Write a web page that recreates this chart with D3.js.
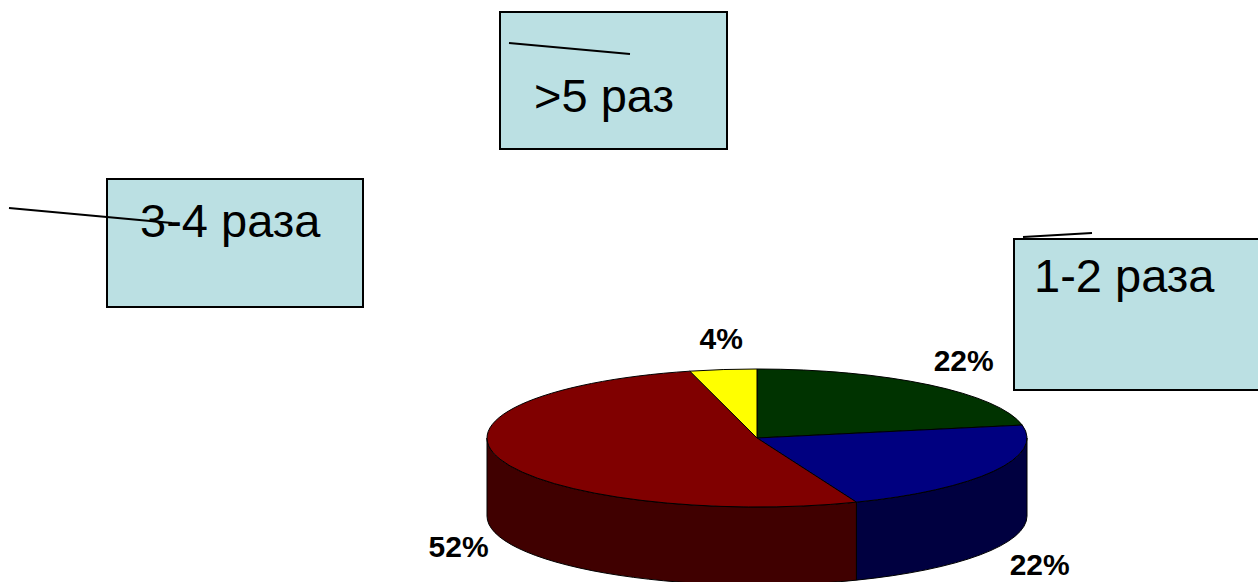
<!DOCTYPE html>
<html>
<head>
<meta charset="utf-8">
<script src="https://cdn.jsdelivr.net/npm/d3@7"></script>
<style>
  body { margin: 0; background: #fff; }
  svg { display: block; font-family: 'Liberation Sans', Arial, sans-serif; }
</style>
</head>
<body>
<div id="chart"></div>
<script>
// slice values (percent), clockwise from 12 o'clock
const values = [22, 22, 52, 4];
const topColors = ['#003300', '#000080', '#800000', '#ffff00'];
const sideColors = ['#001a00', '#000040', '#400000', '#808000'];

// callout boxes
const boxLabels = ['>5 раз', '3-4 раза', '1-2 раза'];

const width = 1258;
const height = 582;

// layout for the callout boxes and their stray leader lines
const boxLayout = [
  {x: 500, y: 12, w: 227, h: 137, tx: 534, ty: 112, line: [[509, 43], [630, 54]]},
  {x: 107, y: 179, w: 256, h: 128, tx: 140, ty: 237, line: [[9, 208], [172, 223]]},
  {x: 1014, y: 239, w: 260, h: 151, tx: 1034, ty: 292, line: [[1023, 237], [1092, 233]]},
];

const cx = 757;
const cy = 438;
const rx = 270;
const ry = 69;
const depth = 78;

const svg = d3.select('#chart')
    .append('svg')
    .attr('width', width)
    .attr('height', height);

const pie = d3.pie().sort(null).value((d) => d);
const arcs = pie(values);

const pt = (a, dy = 0) => [cx + rx * Math.sin(a), cy - ry * Math.cos(a) + dy];

// side walls, only the front half (angles pi/2 .. 3pi/2) is visible
const sides = svg.append('g').attr('class', 'sides');
arcs.forEach((d, i) => {
  const a0 = Math.max(d.startAngle, Math.PI / 2);
  const a1 = Math.min(d.endAngle, 3 * Math.PI / 2);
  if (a1 <= a0) return;
  const large = a1 - a0 > Math.PI ? 1 : 0;
  const p0 = pt(a0);
  const p1 = pt(a1);
  const b1 = pt(a1, depth);
  const b0 = pt(a0, depth);
  const path = `M${p0} A${rx},${ry} 0 ${large} 1 ${p1} L${b1} ` +
    `A${rx},${ry} 0 ${large} 0 ${b0} Z`;
  sides.append('path')
      .attr('d', path)
      .attr('fill', sideColors[i])
      .attr('stroke', '#000')
      .attr('stroke-width', 1)
      .attr('stroke-linejoin', 'round');
});

// top faces: circular arcs squashed into an ellipse
const arc = d3.arc().innerRadius(0).outerRadius(rx);
svg.append('g')
    .attr('transform', `translate(${cx},${cy}) scale(1,${ry / rx})`)
    .selectAll('path')
    .data(arcs)
    .enter()
    .append('path')
    .attr('d', arc)
    .attr('fill', (d, i) => topColors[i])
    .attr('stroke', '#000')
    .attr('stroke-width', 1)
    .attr('vector-effect', 'non-scaling-stroke');

// percentage labels
const lrx = 318;
const lry = 100;
svg.append('g')
    .selectAll('text')
    .data(arcs)
    .enter()
    .append('text')
    .attr('x', (d) => cx + 4 + lrx * Math.sin((d.startAngle + d.endAngle) / 2))
    .attr('y', (d) => {
      const m = (d.startAngle + d.endAngle) / 2;
      return cy - lry * Math.cos(m) + (Math.cos(m) < 0 ? depth : 0);
    })
    .attr('text-anchor', 'middle')
    .attr('dominant-baseline', 'central')
    .style('font-size', '30px')
    .style('font-weight', 'bold')
    .attr('fill', '#000')
    .text((d) => `${d.data}%`);

// callout boxes
const boxes = svg.append('g')
    .selectAll('g')
    .data(boxLabels)
    .enter()
    .append('g');

boxes.append('rect')
    .attr('x', (d, i) => boxLayout[i].x)
    .attr('y', (d, i) => boxLayout[i].y)
    .attr('width', (d, i) => boxLayout[i].w)
    .attr('height', (d, i) => boxLayout[i].h)
    .attr('fill', '#bbe0e3')
    .attr('stroke', '#000')
    .attr('stroke-width', 2);

boxes.append('text')
    .attr('x', (d, i) => boxLayout[i].tx)
    .attr('y', (d, i) => boxLayout[i].ty)
    .style('font-size', '47px')
    .attr('fill', '#000')
    .text((d) => d);

boxes.append('line')
    .attr('x1', (d, i) => boxLayout[i].line[0][0])
    .attr('y1', (d, i) => boxLayout[i].line[0][1])
    .attr('x2', (d, i) => boxLayout[i].line[1][0])
    .attr('y2', (d, i) => boxLayout[i].line[1][1])
    .attr('stroke', '#000')
    .attr('stroke-width', 2);
</script>
</body>
</html>
